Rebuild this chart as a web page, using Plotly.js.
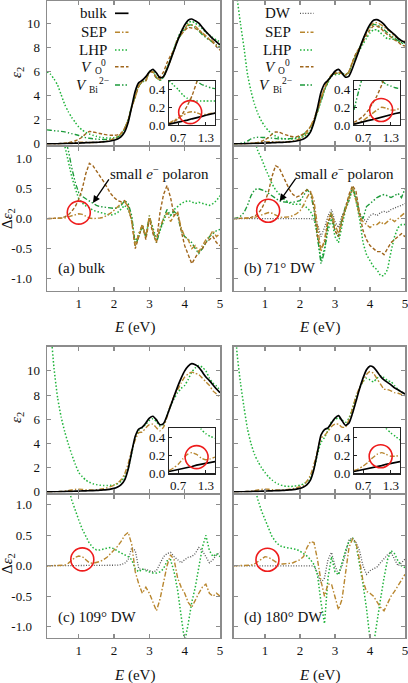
<!DOCTYPE html>
<html>
<head>
<meta charset="utf-8">
<script src="https://cdn.plot.ly/plotly-3.0.1.min.js"></script>
<style>
  html, body { margin: 0; padding: 0; background: #fff; }
  #plot { width: 408px; height: 683px; }
</style>
</head>
<body>
<div id="plot"></div>
<script>
// photon energy grid (eV)
const E = [0.1,0.2,0.3,0.4,0.5,0.6,0.7,0.8,0.9,1.0,
           1.1,1.2,1.3,1.4,1.5,1.6,1.7,1.8,1.9,2.0,
           2.1,2.2,2.3,2.4,2.5,2.6,2.7,2.8,2.9,3.0,
           3.1,3.2,3.3,3.4,3.5,3.6,3.7,3.8,3.9,4.0,
           4.1,4.2,4.3,4.4,4.5,4.6,4.7,4.8,4.9,5.0];
// inset grid
const Ein = [0.5,0.6,0.7,0.8,0.9,1.0,1.1,1.2,1.3,1.4,1.5];

// ---- (a) bulk : eps2 ----
const bulkA = [0.0,0.0,0.01,0.01,0.02,0.03,0.04,0.05,0.06,0.07,
               0.08,0.1,0.11,0.12,0.13,0.15,0.17,0.2,0.24,0.3,
               0.4,0.6,1.0,1.8,3.1,4.4,5.1,5.3,5.6,6.0,
               6.2,5.9,5.5,5.6,6.2,7.0,7.8,8.6,9.3,9.9,
               10.3,10.4,10.25,10.05,9.7,9.35,9.05,8.75,8.5,8.25];
const sepA = [0,0,0.01,0.01,0.02,0.04,0.07,0.1,0.13,0.15,
              0.15,0.14,0.12,0.12,0.13,0.16,0.19,0.25,0.33,0.44,
              0.6,0.85,1.28,2.0,3.05,3.95,4.85,5.2,5.3,6.05,
              6.0,5.52,5.35,5.6,6.3,6.95,7.85,8.7,9.15,9.6,
              9.95,9.9,9.8,9.5,9.25,9.0,8.75,8.55,8.2,8.0];
const voA = [0,0,0.01,0.01,0.03,0.06,0.1,0.17,0.26,0.39,
             0.58,0.85,1.03,1.0,0.93,0.87,0.8,0.75,0.72,0.72,
             0.75,0.9,1.3,2.0,3.05,3.9,4.8,5.2,5.25,6.0,
             5.95,5.5,5.6,6.0,6.75,7.35,7.85,8.7,9.1,9.45,
             9.7,9.65,9.6,9.5,9.2,8.95,8.7,8.45,8.1,7.8];
const lhpA = [6.0,5.8,5.4,4.9,4.1,3.3,2.7,2.2,1.8,1.4,
              1.15,0.95,0.82,0.72,0.63,0.56,0.52,0.5,0.5,0.52,
              0.6,0.82,1.25,1.95,3.1,4.0,4.85,5.15,5.3,6.0,
              6.05,5.55,5.3,5.55,6.3,7.05,7.95,8.8,9.4,9.85,
              10.1,10.2,10.05,9.85,9.6,9.3,9.05,8.85,8.65,8.5];
const vbiA = [1.17,1.14,1.1,1.07,1.04,1.0,0.93,0.85,0.78,0.7,
              0.6,0.52,0.47,0.43,0.4,0.38,0.37,0.37,0.4,0.45,
              0.55,0.8,1.3,2.05,3.15,3.95,4.8,5.2,5.3,6.05,
              6.0,5.5,5.3,5.6,6.35,7.05,7.9,8.65,9.1,9.55,
              9.85,9.9,9.7,9.4,9.1,8.85,8.65,8.45,8.25,8.05];
// ---- (a) bulk : delta eps2 ----
const dSepA = [0,0,0,0,0,0.01,0.03,0.05,0.07,0.08,
               0.07,0.04,0.01,0,0,0.01,0.02,0.05,0.09,0.14,
               0.2,0.25,0.28,0.2,-0.05,-0.45,-0.25,-0.1,-0.3,0.05,
               -0.2,-0.38,-0.15,0.0,0.1,-0.05,0.05,0.1,-0.15,-0.3,
               -0.35,-0.5,-0.45,-0.55,-0.45,-0.35,-0.3,-0.2,-0.3,-0.25];
const dVoA = [0,0,0,0,0.01,0.03,0.06,0.12,0.2,0.32,
              0.5,0.75,0.92,0.88,0.8,0.72,0.62,0.52,0.42,0.35,
              0.3,0.28,0.3,0.2,-0.05,-0.5,-0.3,-0.1,-0.35,0.0,
              -0.25,-0.4,0.1,0.4,0.55,0.35,0.05,0.1,-0.2,-0.45,
              -0.6,-0.75,-0.65,-0.55,-0.5,-0.4,-0.35,-0.3,-0.4,-0.45];
const dLhpA = [2.5,2.2,1.9,1.6,1.4,1.22,0.95,0.7,0.5,0.33,
               0.26,0.21,0.18,0.14,0.12,0.1,0.08,0.07,0.06,0.07,
               0.1,0.16,0.22,0.15,0.0,-0.4,-0.25,-0.15,-0.3,0.0,
               -0.15,-0.35,-0.2,-0.05,0.1,0.05,0.15,0.2,0.25,0.28,
               0.3,0.28,0.25,0.27,0.25,0.24,0.22,0.25,0.3,0.38];
const dVbiA = [2.6,2.3,2.0,1.75,1.55,1.35,1.15,0.85,0.6,0.43,
               0.37,0.33,0.29,0.25,0.22,0.2,0.19,0.18,0.17,0.17,
               0.18,0.22,0.3,0.25,0.05,-0.45,-0.3,-0.1,-0.3,0.05,
               -0.2,-0.4,-0.2,0.0,0.15,0.05,0.12,0.05,-0.2,-0.3,
               -0.35,-0.4,-0.5,-0.58,-0.5,-0.4,-0.3,-0.25,-0.2,-0.18];

// ---- (b) 71 deg DW : eps2 ----
const dwB = [0.0,0.0,0.01,0.01,0.02,0.03,0.04,0.05,0.06,0.07,
             0.08,0.1,0.11,0.12,0.13,0.15,0.17,0.2,0.24,0.3,
             0.4,0.6,1.0,1.8,3.0,4.3,5.0,5.3,5.65,6.05,
             6.2,5.9,5.55,5.65,6.3,7.1,7.9,8.7,9.4,9.95,
             10.3,10.35,10.2,9.95,9.6,9.35,9.1,8.8,8.6,8.45];
const sepB = [0,0,0.01,0.01,0.02,0.04,0.06,0.09,0.13,0.16,
              0.18,0.19,0.17,0.15,0.15,0.17,0.2,0.25,0.32,0.43,
              0.62,0.95,1.45,2.1,2.9,3.75,4.65,5.3,5.75,5.95,
              5.95,5.9,5.7,6.0,6.8,7.4,7.95,8.65,9.3,9.8,
              10.05,10.1,9.95,9.75,9.5,9.3,8.95,8.8,8.55,8.55];
const voB = [0,0,0.01,0.01,0.03,0.05,0.08,0.13,0.22,0.35,
             0.53,0.8,0.99,0.97,0.85,0.75,0.65,0.6,0.6,0.68,
             0.84,1.08,1.45,2.0,2.7,3.8,4.6,5.25,5.7,5.85,
             5.9,5.85,5.75,6.05,6.85,7.55,8.0,8.5,9.05,9.5,
             9.8,9.8,9.65,9.35,9.1,8.9,8.65,8.5,8.25,8.15];
const lhpB = [14,12.2,10.0,8.0,5.8,4.4,3.3,2.5,1.9,1.45,
              1.1,0.85,0.65,0.52,0.45,0.42,0.41,0.42,0.46,0.52,
              0.62,0.78,1.12,1.8,2.7,3.6,4.5,5.1,5.65,5.75,
              5.8,5.8,5.7,5.95,6.7,7.4,7.8,8.3,8.8,9.25,
              9.5,9.5,9.25,9.0,8.75,8.75,8.7,8.6,8.4,8.35];
const vbiB = [0.0,0.01,0.05,0.11,0.24,0.41,0.52,0.55,0.54,0.53,
              0.5,0.48,0.45,0.42,0.41,0.42,0.44,0.47,0.52,0.6,
              0.78,1.08,1.42,1.95,2.7,3.55,4.45,5.2,5.75,5.85,
              5.9,5.9,5.75,6.0,6.8,7.45,8.0,8.7,9.3,9.7,
              9.95,9.9,9.75,9.5,9.25,9.0,8.8,8.6,8.45,8.4];
// ---- (b) 71 deg DW : delta eps2 ----
const dDwB = [0,0,0,0,0,0,0,0,0,0,
              0,0,0,0,0,0,0,0,0,0,
              0,0,0,-0.02,-0.1,-0.3,-0.15,0.05,0.15,-0.05,
              -0.15,0.05,0.15,0.3,0.5,0.35,0.05,0.0,-0.05,0.05,
              0.08,0.05,0.1,0.12,0.1,0.15,0.18,0.2,0.22,0.25];
const dSepB = [0,0,0,0,0,0.01,0.02,0.04,0.07,0.09,
               0.1,0.09,0.06,0.03,0.02,0.02,0.03,0.05,0.08,0.13,
               0.22,0.35,0.45,0.3,-0.1,-0.55,-0.35,0.0,0.1,-0.1,
               -0.25,0.0,0.15,0.35,0.5,0.3,0.05,-0.05,-0.1,-0.15,
               -0.1,-0.1,-0.05,-0.1,-0.05,0.0,-0.05,0.0,0.05,0.1];
const dVoB = [0,0,0,0,0.01,0.02,0.04,0.08,0.16,0.28,
              0.45,0.7,0.88,0.85,0.72,0.6,0.48,0.4,0.36,0.38,
              0.44,0.48,0.45,0.2,-0.3,-0.5,-0.4,-0.05,0.05,-0.2,
              -0.3,-0.05,0.2,0.4,0.55,0.45,0.1,-0.2,-0.35,-0.45,
              -0.5,-0.55,-0.55,-0.6,-0.5,-0.4,-0.35,-0.3,-0.25,-0.3];
const dLhpB = [3.5,3.0,2.6,2.2,1.9,1.6,1.3,1.12,1.0,0.85,
               0.7,0.58,0.48,0.4,0.34,0.3,0.26,0.24,0.24,0.24,
               0.22,0.18,0.12,0.0,-0.3,-0.7,-0.5,-0.2,0.0,-0.3,
               -0.4,-0.1,0.15,0.3,0.5,0.3,0.0,-0.4,-0.6,-0.7,
               -0.8,-0.85,-0.95,-0.95,-0.85,-0.55,-0.3,-0.15,-0.1,-0.1];
const dVbiB = [0.0,0.01,0.04,0.1,0.22,0.38,0.48,0.5,0.48,0.46,
               0.42,0.38,0.34,0.3,0.28,0.27,0.27,0.27,0.28,0.3,
               0.38,0.48,0.42,0.15,-0.3,-0.75,-0.55,-0.1,0.1,-0.2,
               -0.3,0.0,0.2,0.35,0.52,0.35,0.1,0.0,0.2,0.25,
               0.3,0.35,0.38,0.4,0.38,0.35,0.38,0.42,0.35,0.5];

// ---- (c) 109 deg DW ----
const dwC = [0.0,0.0,0.01,0.01,0.02,0.03,0.04,0.05,0.06,0.07,
             0.08,0.09,0.1,0.11,0.12,0.14,0.16,0.19,0.23,0.29,
             0.4,0.6,1.0,1.9,3.3,4.6,5.2,5.35,5.7,6.1,
             6.25,5.95,5.55,5.65,6.3,7.1,7.9,8.7,9.4,10.0,
             10.4,10.6,10.5,10.3,9.9,9.5,9.2,8.85,8.5,8.2];
const sepC = [0.0,0.0,0.01,0.02,0.03,0.06,0.1,0.16,0.21,0.23,
              0.21,0.18,0.16,0.16,0.18,0.22,0.27,0.34,0.44,0.56,
              0.72,1.0,1.5,2.35,3.45,4.3,4.9,4.95,5.3,5.55,
              5.6,5.3,5.05,5.35,6.2,7.2,7.95,8.45,9.0,9.5,
              9.75,9.9,9.8,9.7,9.4,9.1,8.8,8.35,8.1,7.8];
const lhpC = [16,13.5,10.2,7.8,6.2,5.0,4.0,3.1,2.3,1.6,
              1.25,0.98,0.8,0.68,0.6,0.55,0.52,0.52,0.54,0.58,
              0.68,0.88,1.25,1.95,3.2,4.5,5.1,5.3,5.6,5.9,
              6.05,5.8,5.45,5.55,6.3,7.1,7.7,8.2,8.55,8.8,
              9.3,9.9,10.25,10.45,10.3,10.0,9.4,9.0,8.75,8.4];
const dDwC = [0,0,0,0,0,0,0,0,0,0,
              0,0,0,0,0,0,0,0,0,0.01,
              0.01,0.02,0.04,0.1,0.3,0.25,-0.05,-0.06,-0.06,-0.08,
              -0.1,-0.08,0.05,0.15,0.2,0.22,0.15,0.1,0.05,0.1,
              0.14,0.15,0.2,0.3,0.25,0.15,0.05,0.1,0.18,0.22];
const dSepC = [0,0,0,0,0,0.01,0.04,0.09,0.14,0.16,
               0.15,0.1,0.05,0.04,0.05,0.07,0.1,0.14,0.2,0.26,
               0.32,0.4,0.5,0.55,0.35,-0.1,-0.3,-0.45,-0.35,-0.45,
               -0.6,-0.74,-0.55,-0.3,0.0,0.18,0.1,-0.2,-0.35,-0.45,
               -0.6,-0.68,-0.55,-0.45,-0.35,-0.3,-0.45,-0.5,-0.45,-0.5];
const dLhpC = [3.0,2.6,2.3,2.0,1.75,1.5,1.3,1.08,0.9,0.75,
               0.6,0.48,0.37,0.3,0.26,0.26,0.28,0.29,0.3,0.28,
               0.24,0.21,0.18,0.15,0.1,-0.05,-0.1,-0.05,-0.08,-0.1,
               -0.12,-0.12,-0.1,-0.05,0.08,0.1,-0.1,-0.4,-0.85,-1.25,
               -0.95,-0.6,-0.35,-0.05,0.3,0.5,0.25,0.15,0.2,0.15];

// ---- (d) 180 deg DW ----
const dwD = [0.0,0.0,0.01,0.01,0.02,0.03,0.04,0.05,0.06,0.07,
             0.08,0.09,0.1,0.11,0.12,0.14,0.16,0.19,0.23,0.29,
             0.4,0.6,1.0,1.9,3.3,4.7,5.15,5.3,5.7,6.1,
             6.3,5.9,5.5,5.7,6.5,7.5,8.5,9.4,10.1,10.4,
             10.3,9.95,9.55,9.25,9.05,8.85,8.6,8.45,8.25,8.1];
const sepD = [0.0,0.0,0.01,0.02,0.03,0.06,0.1,0.16,0.21,0.23,
              0.22,0.19,0.17,0.16,0.17,0.19,0.22,0.27,0.34,0.43,
              0.55,0.9,1.4,2.3,3.4,4.45,4.65,5.0,5.4,5.6,
              5.6,5.35,5.35,6.0,6.9,7.9,8.6,9.15,9.7,9.95,
              9.8,9.35,8.9,8.5,8.45,8.35,8.2,8.15,8.05,7.95];
const lhpD = [16,11.5,9.0,7.0,5.2,4.0,3.1,2.5,2.0,1.6,
              1.25,0.98,0.76,0.62,0.52,0.47,0.45,0.46,0.5,0.56,
              0.66,0.85,1.2,1.9,3.1,4.1,4.5,5.1,5.8,6.0,
              6.1,5.95,5.75,6.1,6.9,7.8,8.55,9.1,9.4,9.25,
              9.1,9.4,9.6,9.45,9.2,9.1,8.8,8.45,8.25,8.1];
const dDwD = [0,0,0,0,0,0,0,0,0,0,
              0,0,0,0,0,0,0,0,0,0,
              0,0,0,0,-0.12,-0.28,-0.2,0.1,0.22,0.0,
              -0.14,0.0,0.2,0.42,0.46,0.38,0.25,0.0,-0.14,-0.08,
              -0.05,-0.02,0.05,0.12,0.18,0.22,0.12,0.0,0.05,0.11];
const dSepD = [0,0,0,0,0,0.01,0.03,0.07,0.12,0.15,
               0.14,0.1,0.06,0.03,0.03,0.03,0.04,0.05,0.07,0.1,
               0.15,0.3,0.4,0.38,0.1,-0.25,-0.5,-0.3,-0.3,-0.5,
               -0.72,-0.55,-0.15,0.3,0.44,0.38,0.1,-0.25,-0.42,-0.45,
               -0.5,-0.6,-0.68,-0.74,-0.62,-0.5,-0.42,-0.32,-0.22,-0.14];
const dLhpD = [3.0,2.6,2.25,1.95,1.7,1.48,1.28,1.08,0.9,0.76,
               0.6,0.48,0.4,0.34,0.31,0.3,0.29,0.28,0.27,0.24,
               0.2,0.16,0.1,0.02,-0.15,-0.6,-0.95,-0.2,0.15,-0.1,
               -0.15,0.05,0.25,0.4,0.45,0.35,0.05,-0.3,-0.7,-1.2,
               -1.3,-0.9,-0.55,-0.2,0.1,0.25,0.2,0.08,0.0,-0.03];

// ---- insets (0.5 - 1.5 eV) ----
const inBulkA = [0.01,0.02,0.03,0.04,0.055,0.07,0.08,0.095,0.11,0.12,0.135];
const inSepA  = [0.02,0.05,0.08,0.11,0.14,0.15,0.14,0.12,0.12,0.13,0.14];
const inVoA   = [0.02,0.04,0.07,0.13,0.22,0.33,0.48,0.65,0.8,0.9,0.9];
const inLhpA  = [0.5,0.45,0.4,0.34,0.3,0.28,0.27,0.27,0.27,0.27,0.27];
const inVbiA  = [1.0,0.9,0.8,0.7,0.62,0.55,0.5,0.46,0.44,0.42,0.41];
const inDwB   = [0.01,0.025,0.035,0.05,0.06,0.075,0.09,0.1,0.115,0.13,0.14];
const inSepB  = [0.01,0.025,0.05,0.09,0.13,0.17,0.2,0.19,0.17,0.17,0.19];
const inVoB   = [0.03,0.06,0.1,0.16,0.24,0.33,0.45,0.6,0.75,0.85,0.85];
const inLhpB  = [1.5,1.3,1.2,1.0,0.9,0.85,0.75,0.7,0.65,0.6,0.55];
const inVbiB  = [0.17,0.38,0.55,0.58,0.57,0.55,0.5,0.46,0.44,0.42,0.41];
const inDwC   = [0.02,0.03,0.04,0.05,0.065,0.075,0.09,0.1,0.11,0.12,0.13];
const inSepC  = [0.03,0.06,0.1,0.16,0.21,0.23,0.21,0.17,0.15,0.16,0.18];
const inLhpC  = [3,2.5,2,1.6,1.2,0.9,0.65,0.49,0.44,0.41,0.39];
const inDwD   = [0.02,0.03,0.04,0.05,0.06,0.07,0.085,0.1,0.11,0.12,0.13];
const inSepD  = [0.03,0.05,0.08,0.12,0.17,0.21,0.23,0.21,0.19,0.19,0.2];
const inLhpD  = [3,2.5,2,1.6,1.2,0.9,0.65,0.5,0.45,0.41,0.37];

// red circles: [subplot, E, value]
const circles = [[9,0.96,0.145],[10,1.09,0.17],[11,1.1,0.18],[12,1.08,0.19],
                 [2,1.0,0.1],[4,1.09,0.13],[6,1.1,0.105],[8,1.07,0.1]];

// tick labels
const xTicks = [1,2,3,4,5];
const epsTicks = [0,2,4,6,8,10];
const dTicks = [-1,-0.5,0,0.5,1];
const dTickText = ['-1.0','-0.5','0.0','0.5','1.0'];
const inXTicks = [0.7,1.3];
const inYTicks = [0,0.2,0.4];
const inYText = ['0.0','0.2','0.4'];

// legend labels: main text, subscript, superscript ('' where none)
const legendA = [['bulk','',''],['SEP','',''],['LHP','',''],['<i>V</i>','O','0'],['<i>V</i>','Bi','2−']];
const legendB = [['DW','',''],['SEP','',''],['LHP','',''],['<i>V</i>','O','0'],['<i>V</i>','Bi','2−']];
const panelNames = ['(a) bulk','(b) 71° DW','(c) 109° DW','(d) 180° DW'];

// line styles
const ST = {
    bulk: {color: '#000000', width: 1.7, dash: 'solid'},
    dw:   {color: '#555555', width: 1.3, dash: '1px,1.6px'},
    sep:  {color: '#b8862e', width: 1.4, dash: '5px,2px,1.5px,2px'},
    vo:   {color: '#a0661c', width: 1.4, dash: '3.5px,2px'},
    lhp:  {color: '#1fb33a', width: 1.5, dash: '1.5px,2px'},
    vbi:  {color: '#1d9b3b', width: 1.4, dash: '5px,2px,1.5px,2px,1.5px,2px'}
};

const W = 408, H = 683;
const fx = p => p / W;
const fy = p => 1 - p / H;
const FONT = 'Liberation Serif';

const traces = [];
function add(xs, ys, n, st, shape) {
    const id = n === 1 ? '' : String(n);
    traces.push({
        x: xs, y: ys, xaxis: 'x' + id, yaxis: 'y' + id,
        type: 'scatter', mode: 'lines', hoverinfo: 'skip', showlegend: false,
        line: {color: st.color, width: st.width, dash: st.dash, shape: shape || 'linear', smoothing: 0.6}
    });
}

// top panels (eps2)
add(E, lhpA, 1, ST.lhp, 'spline'); add(E, vbiA, 1, ST.vbi, 'spline');
add(E, voA, 1, ST.vo, 'spline');   add(E, sepA, 1, ST.sep, 'spline');
add(E, bulkA, 1, ST.bulk, 'spline');
add(E, lhpB, 3, ST.lhp, 'spline'); add(E, vbiB, 3, ST.vbi, 'spline');
add(E, voB, 3, ST.vo, 'spline');   add(E, sepB, 3, ST.sep, 'spline');
add(E, dwB, 3, ST.bulk, 'spline');
add(E, lhpC, 5, ST.lhp, 'spline'); add(E, sepC, 5, ST.sep, 'spline');
add(E, dwC, 5, ST.bulk, 'spline');
add(E, lhpD, 7, ST.lhp, 'spline'); add(E, sepD, 7, ST.sep, 'spline');
add(E, dwD, 7, ST.bulk, 'spline');

// lower panels (delta eps2)
add(E, dLhpA, 2, ST.lhp); add(E, dVbiA, 2, ST.vbi); add(E, dVoA, 2, ST.vo); add(E, dSepA, 2, ST.sep);
add(E, dDwB, 4, ST.dw); add(E, dLhpB, 4, ST.lhp); add(E, dVbiB, 4, ST.vbi); add(E, dVoB, 4, ST.vo); add(E, dSepB, 4, ST.sep);
add(E, dDwC, 6, ST.dw); add(E, dLhpC, 6, ST.lhp); add(E, dSepC, 6, ST.sep);
add(E, dDwD, 8, ST.dw); add(E, dLhpD, 8, ST.lhp); add(E, dSepD, 8, ST.sep);

// insets
add(Ein, inLhpA, 9, ST.lhp, 'spline'); add(Ein, inVbiA, 9, ST.vbi, 'spline');
add(Ein, inVoA, 9, ST.vo, 'spline');   add(Ein, inSepA, 9, ST.sep, 'spline');
add(Ein, inBulkA, 9, ST.bulk);
add(Ein, inLhpB, 10, ST.lhp, 'spline'); add(Ein, inVbiB, 10, ST.vbi, 'spline');
add(Ein, inVoB, 10, ST.vo, 'spline');   add(Ein, inSepB, 10, ST.sep, 'spline');
add(Ein, inDwB, 10, ST.bulk);
add(Ein, inLhpC, 11, ST.lhp, 'spline'); add(Ein, inSepC, 11, ST.sep, 'spline');
add(Ein, inDwC, 11, ST.bulk);
add(Ein, inLhpD, 12, ST.lhp, 'spline'); add(Ein, inSepD, 12, ST.sep, 'spline');
add(Ein, inDwD, 12, ST.bulk);

const layout = {
    width: W, height: H,
    margin: {l: 0, r: 0, t: 0, b: 0},
    paper_bgcolor: '#ffffff', plot_bgcolor: '#ffffff',
    font: {family: FONT, size: 15, color: '#111111'},
    showlegend: false,
    shapes: [], annotations: []
};

const common = {
    showline: true, mirror: 'allticks', linecolor: '#8c8c8c', linewidth: 1.5,
    ticks: 'inside', ticklen: 4, tickwidth: 1.2, tickcolor: '#8c8c8c',
    showgrid: false, zeroline: false, fixedrange: true, ticklabeloverflow: 'allow',
    tickfont: {family: FONT, size: 13, color: '#111111'}
};

function setAxes(n, xpx, ypx, xr, yr, xt, yt, showX, showY, extra) {
    const id = n === 1 ? '' : String(n);
    layout['xaxis' + id] = Object.assign({}, common, {
        domain: [fx(xpx[0]), fx(xpx[1])], range: xr, anchor: 'y' + id,
        tickvals: xt[0], ticktext: xt[1], showticklabels: showX
    }, extra || {});
    layout['yaxis' + id] = Object.assign({}, common, {
        domain: [fy(ypx[1]), fy(ypx[0])], range: yr, anchor: 'x' + id,
        tickvals: yt[0], ticktext: yt[1], showticklabels: showY
    }, extra || {});
}

const xT = [xTicks, xTicks.map(String)];
const eT = [epsTicks, epsTicks.map(String)];
const dT = [dTicks, dTickText];
const left = [47, 220], right = [233.5, 405];
const rowsTop = [[1, 144.5], [346.7, 492.5]];
const rowsLow = [[146.5, 290.7], [494.5, 637.7]];

setAxes(1, left, rowsTop[0], [0.1, 5], [-0.05, 11.9], xT, eT, false, true);
setAxes(2, left, rowsLow[0], [0.1, 5], [-1.2, 1.2], xT, dT, true, true);
setAxes(3, right, rowsTop[0], [0.1, 5], [-0.05, 11.9], xT, eT, false, false);
setAxes(4, right, rowsLow[0], [0.1, 5], [-1.2, 1.2], xT, dT, true, false);
setAxes(5, left, rowsTop[1], [0.1, 5], [-0.05, 12], xT, eT, false, true);
setAxes(6, left, rowsLow[1], [0.1, 5], [-1.18, 1.17], xT, dT, true, true);
setAxes(7, right, rowsTop[1], [0.1, 5], [-0.05, 12], xT, eT, false, false);
setAxes(8, right, rowsLow[1], [0.1, 5], [-1.18, 1.17], xT, dT, true, false);
[1, 5].forEach(n => { layout['yaxis' + (n === 1 ? '' : n)].ticklabelstandoff = 3; });
[2, 6].forEach(n => { layout['yaxis' + n].ticklabelstandoff = 11; });

const inExtra = {linecolor: '#222222', linewidth: 1.2, tickcolor: '#222222', ticklen: 3, mirror: true};
const inX = [inXTicks, ['0.7', '1.3']], inY = [inYTicks, inYText];
setAxes(9, [169, 215], [80.7, 125], [0.5, 1.5], [0, 0.5], inX, inY, true, true, inExtra);
setAxes(10, [354, 400], [80.7, 125], [0.5, 1.5], [0, 0.5], inX, inY, true, true, inExtra);
setAxes(11, [169, 215], [428.3, 473.3], [0.5, 1.5], [0, 0.5], inX, inY, true, true, inExtra);
setAxes(12, [354, 400], [428.3, 473.3], [0.5, 1.5], [0, 0.5], inX, inY, true, true, inExtra);

// red circles
circles.forEach(([n, cx, cy]) => {
    layout.shapes.push({
        type: 'circle', xref: 'x' + n, yref: 'y' + n,
        xsizemode: 'pixel', ysizemode: 'pixel', xanchor: cx, yanchor: cy,
        x0: -11.5, x1: 11.5, y0: -11.5, y1: 11.5,
        line: {color: '#ee1c1c', width: 1.6}
    });
});

// legends (text on the left, line sample on the right)
function note(x, y, text, size, xanchor) {
    layout.annotations.push({
        xref: 'paper', yref: 'paper', x: fx(x), y: fy(y),
        xanchor: xanchor, yanchor: 'middle', text: text, showarrow: false,
        borderpad: 0, font: {family: FONT, size: size, color: '#111111'}
    });
}
const legStyles = [[ST.bulk, ST.sep, ST.lhp, ST.vo, ST.vbi], [ST.dw, ST.sep, ST.lhp, ST.vo, ST.vbi]];
const legRows = [13.3, 32.3, 50, 66.7, 85];
// V glyph right edge, sub x, sub y, sup x, sup y (per row with scripts)
const vPos = {3: [93, 93.5, 71, 100, 63.3], 4: [87.5, 88, 89.5, 97.5, 81.2]};
[[legendA, 0, 115], [legendB, 183.7, 300]].forEach(([items, dx, lx], k) => {
    items.forEach(([main, sub, sup], i) => {
        if (!sub) {
            note(108 + dx, legRows[i], main, 15, 'right');
        } else {
            const p = vPos[i];
            note(p[0] + dx, legRows[i], main, 15, 'right');
            note(p[1] + dx, p[2], sub, 9.5, 'left');
            note(p[3] + dx, p[4], sup, 9.5, 'left');
        }
        const st = legStyles[k][i];
        layout.shapes.push({
            type: 'line', xref: 'paper', yref: 'paper',
            x0: fx(lx), x1: fx(lx + 13.5), y0: fy(legRows[i]), y1: fy(legRows[i]),
            line: {color: st.color, width: st.width, dash: st.dash}
        });
    });
});

// axis titles
[[17, 73, '<i>ε</i><sub>2</sub>'], [17, 418, '<i>ε</i><sub>2</sub>'],
 [8, 219, 'Δ<i>ε</i><sub>2</sub>'], [8, 564, 'Δ<i>ε</i><sub>2</sub>']].forEach(([x, y, t]) => {
    layout.annotations.push({xref: 'paper', yref: 'paper', x: fx(x), y: fy(y),
        text: t, textangle: -90, showarrow: false, xanchor: 'center', yanchor: 'middle',
        font: {family: FONT, size: 15}});
});
[[134, 327], [319, 327], [134, 675], [319, 675]].forEach(([x, y]) => {
    note(x, y, '<i>E</i> (eV)', 15, 'center');
});

// panel labels
[[57, 268], [242.5, 268], [57, 617], [242.5, 617]].forEach(([x, y], i) => {
    note(x, y, panelNames[i], 15, 'left');
});

// polaron notes
[[2, 3.29, 1.40, 0.26, 17, -25], [4, 3.27, 1.42, 0.29, 17, -24]].forEach(([n, tx, hx, hy, ax, ay]) => {
    layout.annotations.push({xref: 'x' + n, yref: 'y' + n, x: tx, y: 0.76,
        text: 'small <i>e</i><sup>−</sup> polaron', showarrow: false,
        xanchor: 'center', yanchor: 'middle', font: {family: FONT, size: 15}});
    layout.annotations.push({xref: 'x' + n, yref: 'y' + n, x: hx, y: hy, ax: ax, ay: ay,
        text: '', showarrow: true, arrowhead: 2, arrowsize: 1.1, arrowwidth: 1.3,
        arrowcolor: '#000000', standoff: 0});
});

Plotly.newPlot('plot', traces, layout, {staticPlot: true, displayModeBar: false});
</script>
</body>
</html>
